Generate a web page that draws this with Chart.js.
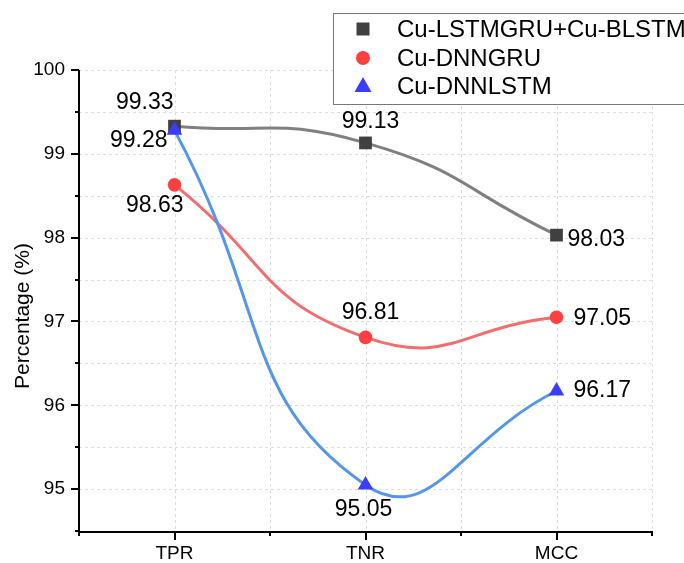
<!DOCTYPE html>
<html><head><meta charset="utf-8">
<script src="https://cdn.jsdelivr.net/npm/chart.js@4"></script>
<style>html,body{margin:0;padding:0;background:#fff}</style>
</head><body>
<canvas id="c" width="684" height="563" style="width:684px;height:563px;display:block"></canvas>
<script>
// ---- data ----
const categories = ['TPR', 'TNR', 'MCC'];
const seriesNames = ['Cu-LSTMGRU+Cu-BLSTM', 'Cu-DNNGRU', 'Cu-DNNLSTM'];
const lstmgruBlstmValues = [99.33, 99.13, 98.03];
const dnngruValues = [98.63, 96.81, 97.05];
const dnnlstmValues = [99.28, 95.05, 96.17];
const yTickLabels = [95, 96, 97, 98, 99, 100];
const yMin = 94.5, yMax = 100;

// ---- styles ----
const FONT = '"Liberation Sans", Arial, sans-serif';
const lineColors = ['rgb(128,128,128)', 'rgb(242,110,110)', 'rgb(85,150,232)'];
const markerColors = ['rgb(64,64,64)', 'rgb(255,64,64)', 'rgb(60,60,255)'];
const markerStyles = ['rect', 'circle', 'triangle'];
const markerRadii = [9, 6.8, 9];
// label placement per series / point: [dx, dy, align]
const labelPlacement = [
  [[-1, -24, 'right'], [5, -21, 'center'], [11, 5, 'left']],
  [[9, 21, 'right'], [5, -25, 'center'], [17, 1, 'left']],
  [[-7, 10, 'right'], [-2, 25, 'center'], [17, 0, 'left']]
];

const seriesValues = [lstmgruBlstmValues, dnngruValues, dnnlstmValues];
const datasets = seriesValues.map((vals, s) => ({
  label: seriesNames[s],
  data: vals.map((v, i) => ({ x: i, y: v })),
  borderColor: lineColors[s],
  borderWidth: 3,
  tension: 0.5,
  pointStyle: markerStyles[s],
  pointRadius: markerRadii[s],
  pointHoverRadius: markerRadii[s],
  pointBackgroundColor: markerColors[s],
  pointBorderColor: markerColors[s],
  pointBorderWidth: 0,
  order: 2 - s,
  fill: false
}));

const axisPlugin = {
  id: 'axisDecor',
  beforeDatasetsDraw(chart) {
    const ctx = chart.ctx;
    const xs = chart.scales.x, ys = chart.scales.y;
    const { left, right, top, bottom } = chart.chartArea;
    ctx.save();
    // dashed grid
    ctx.strokeStyle = 'rgb(222,222,222)';
    ctx.lineWidth = 1;
    ctx.setLineDash([3, 3]);
    ys.ticks.forEach(t => {
      const y = Math.round(ys.getPixelForValue(t.value)) + 0.5;
      ctx.beginPath(); ctx.moveTo(left, y); ctx.lineTo(right, y); ctx.stroke();
    });
    xs.ticks.forEach(t => {
      const x = Math.round(xs.getPixelForValue(t.value)) + 0.5;
      ctx.beginPath(); ctx.moveTo(x, top); ctx.lineTo(x, bottom); ctx.stroke();
    });
    ctx.setLineDash([]);
    // axis lines
    ctx.strokeStyle = '#000';
    ctx.lineWidth = 2;
    ctx.beginPath(); ctx.moveTo(left, top); ctx.lineTo(left, bottom + 1); ctx.lineTo(right + 1, bottom + 1); ctx.stroke();
    // ticks
    ys.ticks.forEach(t => {
      const y = Math.round(ys.getPixelForValue(t.value));
      const len = Number.isInteger(t.value) ? 8 : 4;
      ctx.beginPath(); ctx.moveTo(left - len, y); ctx.lineTo(left, y); ctx.stroke();
    });
    xs.ticks.forEach(t => {
      const x = Math.round(xs.getPixelForValue(t.value));
      const len = Number.isInteger(t.value) ? 9 : 5;
      ctx.beginPath(); ctx.moveTo(x, bottom); ctx.lineTo(x, bottom + len); ctx.stroke();
    });
    ctx.restore();
  },
  afterDraw(chart) {
    const ctx = chart.ctx;
    ctx.save();
    // axis title
    ctx.fillStyle = '#000';
    ctx.font = '21px ' + FONT;
    ctx.textAlign = 'center';
    ctx.textBaseline = 'middle';
    ctx.translate(23, 316);
    ctx.rotate(-Math.PI / 2);
    ctx.fillText('Percentage (%)', 0, 0);
    ctx.restore();

    // legend
    ctx.save();
    ctx.fillStyle = '#fff';
    ctx.fillRect(333.5, 13.5, 400, 91);
    ctx.strokeStyle = 'rgb(120,120,120)';
    ctx.lineWidth = 1;
    ctx.strokeRect(333.5, 13.5, 400, 91);
    const rowsY = [29, 58, 86];
    seriesNames.forEach((name, s) => {
      const mx = 363, my = rowsY[s];
      ctx.fillStyle = markerColors[s];
      ctx.beginPath();
      if (markerStyles[s] === 'rect') {
        ctx.rect(mx - 6.5, my - 6.5, 13, 13);
      } else if (markerStyles[s] === 'circle') {
        ctx.arc(mx, my, 7, 0, Math.PI * 2);
      } else {
        ctx.moveTo(mx, my - 9);
        ctx.lineTo(mx + 8.5, my + 6);
        ctx.lineTo(mx - 8.5, my + 6);
        ctx.closePath();
      }
      ctx.fill();
      ctx.fillStyle = '#000';
      ctx.font = '24px ' + FONT;
      ctx.textAlign = 'left';
      ctx.textBaseline = 'middle';
      ctx.fillText(name, 397, my + 1);
    });
    ctx.restore();
  },
  afterDatasetsDraw(chart) {
    const ctx = chart.ctx;
    ctx.save();
    ctx.fillStyle = '#000';
    ctx.font = '23px ' + FONT;
    ctx.textBaseline = 'middle';
    chart.data.datasets.forEach((ds, s) => {
      const meta = chart.getDatasetMeta(s);
      meta.data.forEach((pt, i) => {
        const [dx, dy, align] = labelPlacement[s][i];
        ctx.textAlign = align;
        ctx.fillText(seriesValues[s][i].toFixed(2), pt.x + dx, pt.y + dy);
      });
    });
    ctx.restore();
  }
};

new Chart(document.getElementById('c'), {
  type: 'line',
  data: { datasets },
  options: {
    responsive: false,
    animation: false,
    devicePixelRatio: 1,
    layout: { padding: { top: 70, right: 32, left: 0, bottom: 0 } },
    plugins: { legend: { display: false }, tooltip: { enabled: false } },
    scales: {
      x: {
        type: 'linear',
        min: -0.5, max: 2.5,
        afterFit(scale) { scale.height = 32; },
        ticks: {
          stepSize: 0.5,
          autoSkip: false,
          maxRotation: 0,
          padding: 11,
          color: '#000',
          font: { size: 19, family: FONT },
          callback: v => Number.isInteger(v) ? categories[v] : ''
        },
        grid: { display: false, drawTicks: false },
        border: { display: false }
      },
      y: {
        type: 'linear',
        min: yMin, max: yMax,
        afterFit(scale) { scale.width = 79; },
        ticks: {
          stepSize: 0.5,
          autoSkip: false,
          padding: 14,
          color: '#000',
          font: { size: 19, family: FONT },
          callback: v => yTickLabels.includes(v) ? String(v) : ''
        },
        grid: { display: false, drawTicks: false },
        border: { display: false }
      }
    }
  },
  plugins: [axisPlugin]
});
</script>
</body></html>
